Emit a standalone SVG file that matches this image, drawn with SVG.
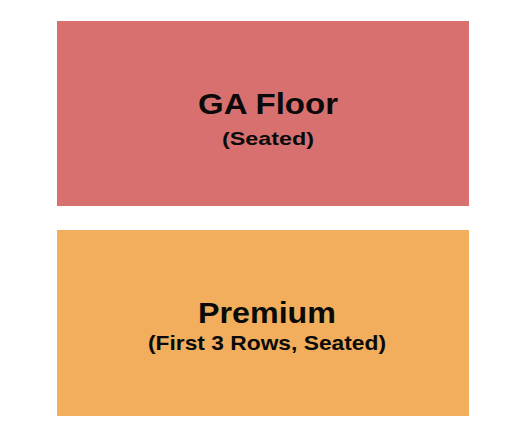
<svg xmlns="http://www.w3.org/2000/svg" width="525" height="444" viewBox="0 0 525 444">
<style>
text{font-family:"Liberation Sans",Arial,sans-serif;font-weight:bold;fill:#0a0a0a;text-anchor:middle}
.t{font-size:29.5px}
.s{font-size:19px}
.f{font-size:20.5px}
</style>
<rect width="525" height="444" fill="#fff"/>
<g id="ga-floor">
<rect x="57" y="21" width="412" height="185" fill="#D87070"/>
<text class="t" x="268" y="113.5" textLength="140" lengthAdjust="spacingAndGlyphs">GA Floor</text>
<text class="s" x="268" y="144.5" textLength="92" lengthAdjust="spacingAndGlyphs">(Seated)</text>
</g>
<g id="premium">
<rect x="57" y="230" width="412" height="186" fill="#F2AE5C"/>
<text class="t" x="267" y="322.5" textLength="138" lengthAdjust="spacingAndGlyphs">Premium</text>
<text class="f" x="267" y="349.5" textLength="238" lengthAdjust="spacingAndGlyphs">(First 3 Rows, Seated)</text>
</g>
<g id="connectors"/>
</svg>
